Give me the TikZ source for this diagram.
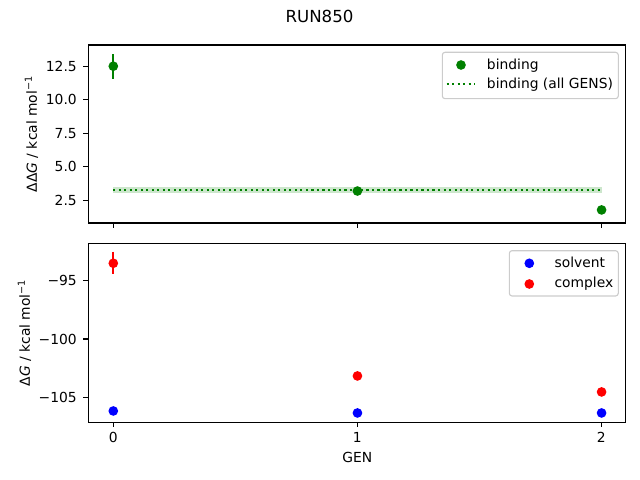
\documentclass[tikz,border=0pt]{standalone}
\usepackage{fontspec}
\setmainfont{DejaVu Sans}
\usepackage{tikz}

\definecolor{mplgreen}{HTML}{008000}
\definecolor{mplblue}{HTML}{0000FF}
\definecolor{mplred}{HTML}{FF0000}

\begin{document}
\begin{tikzpicture}[x=0.01in, y=-0.01in, font=\fontsize{10}{12}\selectfont,
        spine/.style = {line width=0.8pt},
        tickmark/.style = {line width=0.8pt},
        ticklabel/.style = {inner sep=0pt},
        errbar/.style = {line width=1.5pt},
        dotline/.style = {mplgreen, line width=1.5pt, dash pattern=on 1.5pt off 2.475pt},
        legendbox/.style = {draw=black!20, fill=white, fill opacity=0.8, rounded corners=2pt, line width=0.8pt}]
        \useasboundingbox (0,0) rectangle (640,480);

        % title
        \node[anchor=base, inner sep=0pt, font=\fontsize{12}{14}\selectfont] (title) at (319.5,22.3) {RUN850};

        % frames
        \draw[spine] (88.3,45) rectangle (625.7,223);
        \draw[spine] (88.3,243.3) rectangle (625.7,422.3);

        % x ticks
        \foreach \px in {113.3,357.3,601.3} {
            \draw[tickmark] (\px,223) -- (\px,227.9);
            \draw[tickmark] (\px,422.3) -- (\px,427.2);
        }
        \node[ticklabel, anchor=north] (xt0) at (113.3,431.7) {0};
        \node[ticklabel, anchor=north] (xt1) at (357.3,431.7) {1};
        \node[ticklabel, anchor=north] (xt2) at (601.3,431.7) {2};
        \node[ticklabel, anchor=north] (xlabel) at (357.3,452.3) {GEN};

        % y ticks, upper panel
        \foreach \py/\lab in {66.3/12.5, 99.8/10.0, 133.3/7.5, 166.8/5.0, 200.3/2.5} {
            \draw[tickmark] (88.3,\py) -- (83.4,\py);
            \node[ticklabel, anchor=east] at (77,\py) {\lab};
        }
        \node[ticklabel, rotate=90] (ylabtop) at (31.5,134) {ΔΔ\textit{G} / kcal mol\textsuperscript{−1}};

        % y ticks, lower panel
        \foreach \py/\lab in {280.7/−95, 339.05/−100, 397.4/−105} {
            \draw[tickmark] (88.3,\py) -- (83.4,\py);
            \node[ticklabel, anchor=east] at (77,\py) {\lab};
        }
        \node[ticklabel, rotate=90] (ylabbot) at (24.5,332.8) {Δ\textit{G} / kcal mol\textsuperscript{−1}};

        % upper panel data
        \begin{scope}[shift={(113.3,233.8)}, x=2.44in, y=0.134in]
            \fill[mplgreen, opacity=0.2] (0,3.08) rectangle (2,3.52);
            \draw[dotline] (0,3.3) -- (2,3.3);
            \draw[errbar, mplgreen] (0,11.57) -- (0,13.43);
            \draw[errbar, mplgreen] (1,3.0) -- (1,3.38);
            \draw[errbar, mplgreen] (2,1.45) -- (2,2.1);
            \fill[mplgreen] (0,12.5) circle[radius=3.5pt];
            \fill[mplgreen] (1,3.19) circle[radius=3.5pt];
            \fill[mplgreen] (2,1.78) circle[radius=3.5pt];
        \end{scope}

        % lower panel data
        \begin{scope}[shift={(113.3,-827.9)}, x=2.44in, y=0.1167in]
            \draw[errbar, mplred] (0,-92.45) -- (0,-94.37);
            \fill[mplblue] (0,-106.1) circle[radius=3.5pt];
            \fill[mplblue] (1,-106.27) circle[radius=3.5pt];
            \fill[mplblue] (2,-106.27) circle[radius=3.5pt];
            \fill[mplred] (0,-93.45) circle[radius=3.5pt];
            \fill[mplred] (1,-103.1) circle[radius=3.5pt];
            \fill[mplred] (2,-104.47) circle[radius=3.5pt];
        \end{scope}

        % legends
        \draw[legendbox] (442.3,52.3) rectangle (618.3,98.7);
        \fill[mplgreen] (461,65) circle[radius=3.5pt];
        \draw[dotline] (446.7,84.3) -- (475,84.3);
        \node[ticklabel, anchor=base west] (legbind) at (486.7,69.3) {binding};
        \node[ticklabel, anchor=base west] (legall) at (486.7,89) {binding (all GENS)};

        \draw[legendbox] (509.3,250.7) rectangle (618.3,296);
        \fill[mplblue] (529.3,263.3) circle[radius=3.5pt];
        \fill[mplred] (529.3,284) circle[radius=3.5pt];
        \node[ticklabel, anchor=base west] (legsolv) at (554.3,267.3) {solvent};
        \node[ticklabel, anchor=base west] (legcomp) at (554.3,287.3) {complex};
    \end{tikzpicture}
\end{document}
